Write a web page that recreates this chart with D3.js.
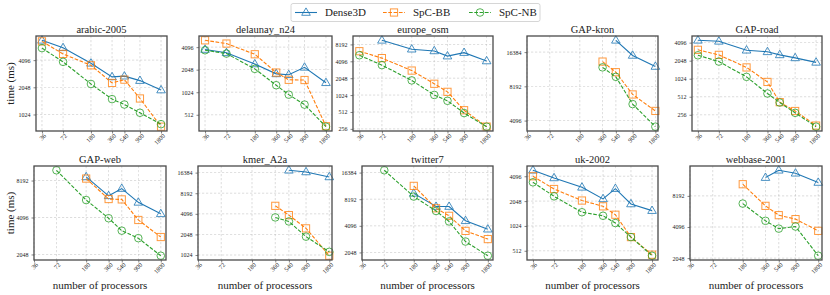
<!DOCTYPE html>
<html>
<head>
<meta charset="utf-8">
<script src="https://cdn.jsdelivr.net/npm/d3@7/dist/d3.min.js"></script>
<style>
  body { margin: 0; background: #fff; }
  svg { display: block; }
  svg text { font-family: "Liberation Serif", "DejaVu Serif", serif; }
</style>
</head>
<body>
<svg id="chart"></svg>
<script>
// processor counts on the x axis
var procs = [36, 72, 180, 360, 540, 900, 1800];
var graphs = ["arabic-2005", "delaunay_n24", "europe_osm", "GAP-kron", "GAP-road",
              "GAP-web", "kmer_A2a", "twitter7", "uk-2002", "webbase-2001"];
var seriesNames = ["Dense3D", "SpC-BB", "SpC-NB"];

// time (ms), one row per graph, null = not run
var dense3D = [
  [6790, 5610, 3780, 2670, 2720, 2430, 1910],
  [3810, 3440, 2440, 1800, 1750, 2200, 1370],
  [null, 9690, 6730, 6270, 5070, 5850, 4150],
  [null, null, null, null, 20800, 15320, 12250],
  [4480, 4310, 3060, 2880, 2560, 2280, 1920],
  [null, null, 8770, 6150, 7050, 5440, 4390],
  [null, null, null, null, 17730, 16750, 14170],
  [null, null, 9540, 6770, 6770, 4670, 3750],
  [4840, 3910, 3010, 2180, 2900, 1890, 1570],
  [null, null, null, 12310, 14490, 13560, 11040]
];
var spcBB = [
  [6610, 4800, 3590, 2290, 2490, 1540, 750],
  [5050, 4570, 3290, 1875, 1500, 1490, 360],
  [6200, 4670, 2800, 1630, 1170, 550, 281],
  [null, null, null, 13520, 10910, 6950, 4980],
  [3110, 2560, 1580, 905, 416, 296, 169],
  [null, null, 8500, 5790, 5750, 3910, 2840],
  [null, null, null, 5360, 3920, 2510, 1000],
  [null, null, 11590, 6470, 5310, 3590, 2900],
  [4096, 2870, 2080, 1770, 1400, 750, 459],
  [null, null, 10620, 6560, 5330, 4880, 3760]
];
var spcNB = [
  [5570, 3920, 2230, 1515, 1320, 1070, 800],
  [3720, 3360, 2100, 1270, 950, 700, 355],
  [5250, 3500, 1870, 1030, 810, 490, 280],
  [null, null, null, 12030, 9930, 5720, 3620],
  [2520, 1980, 1100, 580, 410, 276, 162],
  [null, 9930, 5680, 4040, 3200, 2780, 2000],
  [null, null, null, 3630, 3170, 1900, 1140],
  [null, 17400, 8780, 6030, 4590, 2720, 1880],
  [3460, 2340, 1500, 1360, 1110, 750, 446],
  [null, null, 6900, 4700, 3950, 4140, 2160]
];

var width = 830, height = 295;
var colors = ["#1f77b4", "#ff7f0e", "#2ca02c"];
var dashes = [null, "3.7,1.6", "3.7,1.6"];
var serif = "'Liberation Serif', 'DejaVu Serif', serif";

// plot boxes: left, right, top, bottom
var boxes = [
  [36, 167, 36, 131], [199, 332, 36, 131], [353, 493, 36, 131], [527, 658, 36, 131], [692, 822, 36, 131],
  [34, 166, 166, 260], [198, 332, 166, 260], [362, 493, 166, 260], [527, 658, 166, 260], [690, 822, 166, 260]
];

var svg = d3.select("#chart").attr("width", width).attr("height", height)
  .attr("font-family", serif);

function marker(sel, k, color) {
  if (k === 0) {
    sel.append("path").attr("d", "M0,-4.6L4.3,2.8L-4.3,2.8Z");
  } else if (k === 1) {
    sel.append("rect").attr("x", -3.6).attr("y", -3.6).attr("width", 7.2).attr("height", 7.2);
  } else {
    sel.append("circle").attr("r", 3.8);
  }
  sel.selectAll("*").attr("fill", "none").attr("stroke", color).attr("stroke-width", 1).attr("stroke-opacity", 0.8);
}

graphs.forEach(function (name, i) {
  var b = boxes[i];
  var all = [dense3D[i], spcBB[i], spcNB[i]];
  var g = svg.append("g");

  // x limits: data extent + 5% (log), widened to hold every tick
  var used = procs.filter(function (p, k) { return all.some(function (s) { return s[k] != null; }); });
  var xlo = Math.log(d3.min(used)), xhi = Math.log(d3.max(used)), xm = (xhi - xlo) * 0.05;
  var x = d3.scaleLog()
    .domain([Math.min(36, Math.exp(xlo - xm)), Math.max(1800, Math.exp(xhi + xm))])
    .range([b[0], b[1]]);

  var vals = [].concat(all[0], all[1], all[2]).filter(function (v) { return v != null; });
  var ylo = Math.log2(d3.min(vals)), yhi = Math.log2(d3.max(vals)), ym = (yhi - ylo) * 0.05;
  var y = d3.scaleLog().base(2)
    .domain([Math.pow(2, ylo - ym), Math.pow(2, yhi + ym)])
    .range([b[3], b[2]]);
  var yticks = [];
  for (var e = Math.ceil(ylo - ym); e <= Math.floor(yhi + ym); e++) yticks.push(Math.pow(2, e));

  // grid
  g.append("g").selectAll("line").data(procs).join("line")
    .attr("x1", function (d) { return x(d); }).attr("x2", function (d) { return x(d); })
    .attr("y1", b[2]).attr("y2", b[3]);
  g.append("g").selectAll("line").data(yticks).join("line")
    .attr("x1", b[0]).attr("x2", b[1])
    .attr("y1", function (d) { return y(d); }).attr("y2", function (d) { return y(d); });
  g.selectAll("line").attr("stroke", "#b0b0b0").attr("stroke-width", 0.6)
    .attr("stroke-dasharray", "2.2,1.8").attr("opacity", 0.7);

  // axes
  var xa = g.append("g").attr("transform", "translate(0," + b[3] + ")")
    .call(d3.axisBottom(x).tickValues(procs).tickFormat(d3.format("d")).tickSize(2.5).tickPadding(2));
  xa.selectAll("text")
    .attr("font-size", 6.3).attr("text-anchor", "end")
    .attr("dx", "0.35em").attr("dy", "0.55em")
    .attr("transform", "rotate(-45,0,4.5)");
  var ya = g.append("g").attr("transform", "translate(" + b[0] + ",0)")
    .call(d3.axisLeft(y).tickValues(yticks).tickFormat(d3.format("d")).tickSize(2.5).tickPadding(3));
  ya.selectAll("text").attr("font-size", 6);
  xa.attr("font-family", serif);
  ya.attr("font-family", serif);
  g.selectAll(".domain").remove();
  g.selectAll(".tick line").attr("stroke", "#333").attr("stroke-width", 0.6);
  g.selectAll(".tick text").attr("fill", "#222");

  // series
  all.forEach(function (s, k) {
    var pts = procs.map(function (p, j) { return { p: p, v: s[j] }; }).filter(function (d) { return d.v != null; });
    var line = d3.line().x(function (d) { return x(d.p); }).y(function (d) { return y(d.v); });
    g.append("path").datum(pts).attr("d", line)
      .attr("fill", "none").attr("stroke", colors[k]).attr("stroke-width", 1.1)
      .attr("stroke-dasharray", dashes[k]);
    pts.forEach(function (d) {
      marker(g.append("g").attr("transform", "translate(" + x(d.p) + "," + y(d.v) + ")"), k, colors[k]);
    });
  });

  // frame
  g.append("rect").attr("x", b[0]).attr("y", b[2]).attr("width", b[1] - b[0]).attr("height", b[3] - b[2])
    .attr("fill", "none").attr("stroke", "#4a4a4a").attr("stroke-width", 1.3);

  // title
  g.append("text").attr("x", (b[0] + b[1]) / 2).attr("y", b[2] - 3.5)
    .attr("text-anchor", "middle").attr("font-size", 10.5).attr("fill", "#222").text(name);

  if (i >= 5) {
    g.append("text").attr("x", (b[0] + b[1]) / 2).attr("y", 289)
      .attr("text-anchor", "middle").attr("font-size", 11).attr("fill", "#222").text("number of processors");
  }
  if (i % 5 === 0) {
    var cy = (b[2] + b[3]) / 2;
    g.append("text").attr("transform", "translate(14," + cy + ") rotate(-90)")
      .attr("text-anchor", "middle").attr("font-size", 11).attr("fill", "#222").text("time (ms)");
  }
});

// legend
var leg = svg.append("g");
leg.append("rect").attr("x", 291).attr("y", 3.5).attr("width", 249).attr("height", 18).attr("rx", 2)
  .attr("fill", "#fff").attr("stroke", "#ccc").attr("stroke-width", 0.8);
var legX = [295, 383, 469];
seriesNames.forEach(function (n, k) {
  var lx = legX[k], ly = 12.5;
  leg.append("line").attr("x1", lx).attr("x2", lx + 22).attr("y1", ly).attr("y2", ly)
    .attr("stroke", colors[k]).attr("stroke-width", 1.1).attr("stroke-dasharray", dashes[k]);
  marker(leg.append("g").attr("transform", "translate(" + (lx + 11) + "," + ly + ")"), k, colors[k]);
  leg.append("text").attr("x", lx + 30).attr("y", ly + 3.5).attr("font-size", 11).attr("fill", "#222").text(n);
});
</script>
</body>
</html>
